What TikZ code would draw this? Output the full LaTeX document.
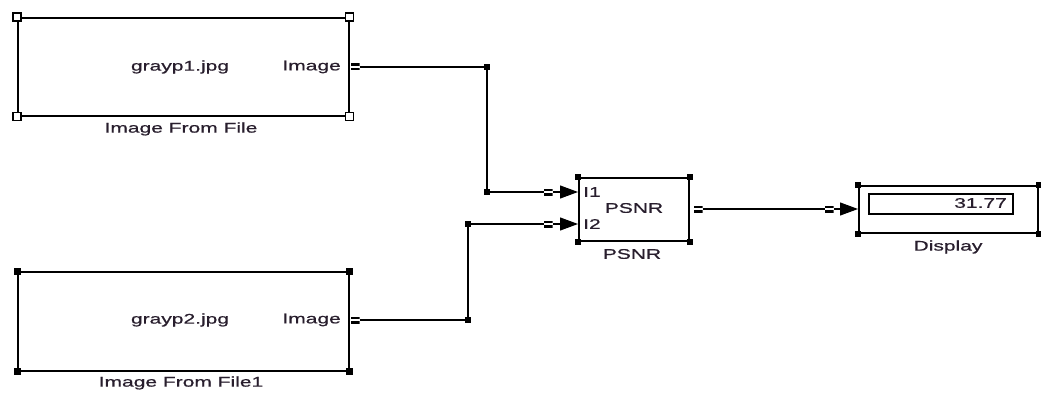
\documentclass[tikz,border=0pt]{standalone}
\usepackage{fontspec}
\newfontfamily\wf[FakeStretch=1.5,FakeBold=0.6]{Liberation Sans}
\usetikzlibrary{arrows.meta}
\definecolor{txt}{RGB}{40,30,45}
\begin{document}
\begin{tikzpicture}[x=1pt,y=-1pt,
  blk/.style={draw, line width=1.6pt, anchor=north west, inner sep=0pt},
  lbl/.style={font=\wf\fontsize{14}{16}\selectfont, text=txt, inner sep=0pt},
  wire/.style={line width=1.1pt},
  arr/.style={wire, -{Triangle[length=18pt,width=13pt]}},
  eqm/.style={minimum width=9pt, minimum height=7pt, inner sep=0pt, fill=white,
    path picture={
      \fill[black] (path picture bounding box.north west) rectangle ([yshift=-2.6pt]path picture bounding box.north east);
      \fill[black] ([yshift=2.6pt]path picture bounding box.south west) rectangle (path picture bounding box.south east);}},
  hnd/.style={rectangle, minimum size=7pt, inner sep=0pt, fill=black},
  hol/.style={rectangle, minimum size=8pt, inner sep=0pt, fill=white, draw, line width=1.2pt},
  bendpt/.style={rectangle, minimum size=6pt, inner sep=0pt, fill=black},
  ]
\useasboundingbox[fill=white] (0,0) rectangle (1041,393);

% Image From File
\node[blk, minimum width=331pt, minimum height=98pt] (b1) at (17,17) {};
\node[lbl] (t1) at (180,67) {grayp1.jpg};
\node[lbl, anchor=east] (im1) at (341,67) {Image};
\node[lbl] (l1) at (181,129) {Image From File};
\foreach \c in {north west, north east, south west, south east}
  \node[hol] at (b1.\c) {};

% Image From File1
\node[blk, minimum width=331pt, minimum height=99pt] (b2) at (17,271) {};
\node[lbl] (t2) at (180,320) {grayp2.jpg};
\node[lbl, anchor=east] (im2) at (341,320) {Image};
\node[lbl] (l2) at (181,383) {Image From File1};
\foreach \c in {north west, north east, south west, south east}
  \node[hnd] at (b2.\c) {};

% PSNR
\node[blk, minimum width=110pt, minimum height=63pt] (ps) at (578,177) {};
\node[lbl, anchor=west] (i1) at (583,192) {I1};
\node[lbl, anchor=west] (i2) at (583,224) {I2};
\node[lbl] (pt) at (634,208) {PSNR};
\node[lbl] (pl) at (632,254) {PSNR};
\foreach \c in {north west, north east, south west, south east}
  \node[hnd, minimum size=6pt] at (ps.\c) {};

% Display
\node[blk, minimum width=179pt, minimum height=47pt] (ds) at (858,185) {};
\node[blk, minimum width=144pt, minimum height=20pt] (dv) at (868,193) {};
\node[lbl, anchor=east] (val) at (1007,203) {31.77};
\node[lbl] (dl) at (948,247) {Display};
\foreach \c in {north west, north east, south west, south east}
  \node[hnd, minimum size=6pt] at (ds.\c) {};

% bends
\coordinate (k1) at (487,67);
\coordinate (k2) at (487,192);
\coordinate (k3) at (468,320);
\coordinate (k4) at (468,224);

% output ports
\node[eqm] (o1) at (355,67) {};
\node[eqm] (o2) at (355,320) {};
\node[eqm] (o3) at (698,209) {};

% wires
\draw[arr] (o1.east) -- (k1) -- (k2) -- (k2 -| ps.west);
\draw[arr] (o2.east) -- (k3) -- (k4) -- (k4 -| ps.west);
\draw[arr] (o3.east) -- (o3 -| ds.west);
\node[bendpt] at (k1) {};
\node[bendpt] at (k2) {};
\node[bendpt] at (k3) {};
\node[bendpt] at (k4) {};

% input markers
\node[eqm] (e1) at (548,192) {};
\node[eqm] (e2) at (548,224) {};
\node[eqm] (e3) at (829,209) {};
\end{tikzpicture}
\end{document}
